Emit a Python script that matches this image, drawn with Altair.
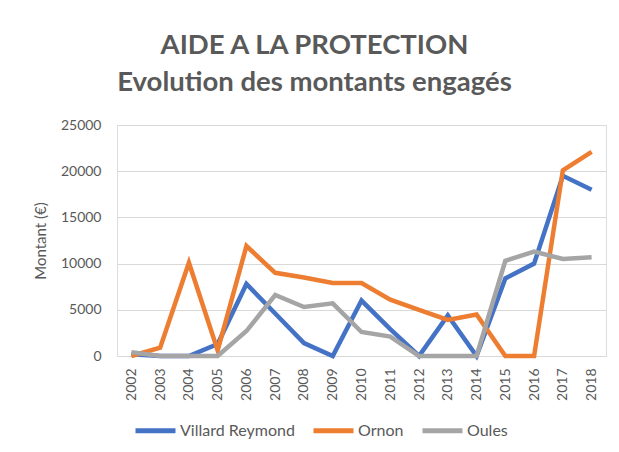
import altair as alt
import pandas as pd

years = [str(y) for y in range(2002, 2019)]
villard = [200, 0, 0, 1300, 7800, 4600, 1400, 0, 6000, 2900, 0, 4400, 0, 8400, 10000, 19500, 18000]
ornon = [0, 900, 10100, 600, 11900, 9000, 8500, 7900, 7900, 6100, 5000, 3900, 4500, 0, 0, 20100, 22100]
oules = [400, 0, 0, 0, 2700, 6600, 5300, 5700, 2600, 2100, 0, 0, 0, 10300, 11300, 10500, 10700]

series = ["Villard Reymond", "Ornon", "Oules"]
colors = ["#4472C4", "#ED7D31", "#A5A5A5"]

rows = []
for name, vals in zip(series, [villard, ornon, oules]):
    for y, v in zip(years, vals):
        rows.append({"Année": y, "Montant": v, "Commune": name})
df = pd.DataFrame(rows)

FONT = "Lato"
GREY = "#595959"

chart = alt.Chart(df).mark_line(strokeWidth=4.5, strokeJoin="miter").encode(
    x=alt.X("Année:O", scale=alt.Scale(type="point", padding=0.5),
            axis=alt.Axis(title=None, labelAngle=-90, labelAlign="right", labelBaseline="middle",
                          labelFontSize=14, labelColor=GREY, labelFont=FONT, labelPadding=12,
                          domainColor="#d9d9d9", ticks=False, grid=False)),
    y=alt.Y("Montant:Q", scale=alt.Scale(domain=[0, 25000]),
            axis=alt.Axis(title="Montant (€)", values=[0, 5000, 10000, 15000, 20000, 25000], format="d",
                          labelFontSize=14, labelColor=GREY, labelFont=FONT, labelPadding=16,
                          titleFontSize=15, titleColor=GREY, titleFont=FONT, titleFontWeight="normal",
                          titlePadding=12, domain=False, ticks=False, gridColor="#d9d9d9")),
    color=alt.Color("Commune:N", scale=alt.Scale(domain=series, range=colors),
                    legend=alt.Legend(title=None, orient="none", legendX=16, legendY=283,
                                      direction="horizontal", symbolType="stroke", symbolSize=1600,
                                      symbolStrokeWidth=5, labelFontSize=16, labelColor=GREY,
                                      labelFont=FONT, columnPadding=8, labelOffset=2)),
    order=alt.Order("Commune:N"),
).properties(
    width=489, height=231,
    padding={"left": 109, "top": 117, "right": 5, "bottom": 86},
    autosize=alt.AutoSizeParams(type="none"),
    title=alt.TitleParams(text=["AIDE A LA PROTECTION", "Evolution des montants engagés"],
                          fontSize=27.5, font=FONT, fontWeight="bold", color=GREY, anchor="middle",
                          dx=-47, offset=22, lineHeight=37),
).configure_view(stroke=None).configure(background="white")

chart.save("out.html", embed_options={"renderer": "svg", "actions": False})
